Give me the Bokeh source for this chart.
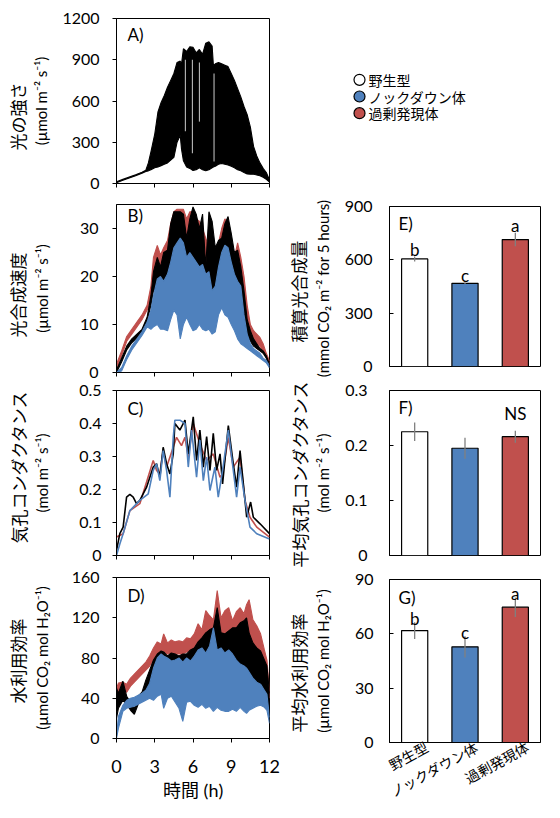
from bokeh.plotting import figure
from bokeh.layouts import row, column
from bokeh.models import Range1d, FactorRange, Title, Label, FixedTicker
from bokeh.core.properties import value
from bokeh.embed import file_html
from bokeh.resources import INLINE

# ---------------- data ----------------
groups = ["野生型", "ノックダウン体", "過剰発現体"]
x_ticks = [0, 3, 6, 9, 12]

# A) light intensity (envelope of a rapidly fluctuating trace)
A_t = [0, 0.5, 1.0, 1.5, 2.0, 2.3, 2.5, 2.7, 3.0, 3.25, 3.5, 3.75, 4.0, 4.25, 4.5, 4.75,
       5.0, 5.1, 5.25, 5.5, 5.75, 6.0, 6.25, 6.5, 6.75, 7.0, 7.25, 7.5, 7.6, 7.75, 8.0, 8.25,
       8.5, 8.75, 9.0, 9.25, 9.5, 9.75, 10.0, 10.25, 10.5, 10.75, 11.0, 11.25, 11.5, 11.75, 12.0]
A_hi = [12, 30, 47, 64, 82, 97, 150, 230, 360, 520, 590, 640, 700, 750, 800, 880,
        890, 870, 980, 960, 995, 990, 950, 975, 940, 1020, 1030, 1000, 860, 870, 880, 870,
        860, 850, 800, 750, 690, 630, 560, 500, 410, 270, 200, 150, 110, 80, 25]
A_lo = [5, 23, 40, 57, 75, 88, 92, 100, 115, 120, 130, 140, 150, 170, 190, 300,
        350, 250, 165, 120, 110, 95, 100, 115, 100, 92, 100, 115, 120, 125, 140, 145,
        140, 135, 125, 115, 100, 92, 80, 70, 68, 68, 62, 56, 45, 30, 10]
A_gap_t = [5.4, 5.95, 6.5, 7.65]
A_gap_top = [900, 900, 880, 800]
A_gap_bot = [380, 220, 450, 160]

# B) photosynthesis rate
B_t = [0, 0.4, 0.8, 1.2, 1.6, 2.0, 2.4, 2.7, 2.9, 3.2, 3.45, 3.7, 4.0, 4.25, 4.5, 4.75,
       5.0, 5.25, 5.5, 5.75, 6.0, 6.25, 6.5, 6.75, 7.0, 7.25, 7.5, 7.75, 8.0, 8.25, 8.5, 8.75,
       9.0, 9.25, 9.5, 9.75, 10.0, 10.25, 10.5, 10.75, 11.0, 11.25, 11.5, 11.75, 12.0]
B_red_hi = [1.7, 4.5, 7.5, 9.0, 10.5, 12.0, 14.0, 18.0, 24.0, 26.5, 24.5, 26.0, 27.5, 31.0, 33.5, 34.0,
            34.0, 34.0, 32.0, 33.5, 33.5, 32.0, 31.5, 30.0, 28.0, 26.0, 24.0, 25.0, 27.0, 30.0, 32.0, 31.0,
            26.0, 24.0, 27.0, 24.0, 20.0, 14.0, 10.0, 8.7, 8.0, 7.3, 6.0, 4.0, 2.4]
B_red_lo = [0.8, 3.5, 6.5, 8.0, 9.5, 11.0, 13.0, 15.0, 18, 20, 20, 20, 21, 22, 24, 25,
            25, 24, 22, 22, 21, 21, 20, 19, 18, 18, 16, 16, 19, 22, 24, 23,
            20, 18, 17, 15, 12, 9, 7.5, 6.5, 6.0, 5.5, 4.5, 3.0, 1.8]
B_black_hi = [0.5, 3.0, 5.5, 7.0, 8.0, 9.0, 11.5, 16.0, 21.0, 24.0, 22.0, 25.0, 25.5, 31.0, 33.5, 33.5,
              33.5, 33.0, 28.0, 32.0, 34.5, 33.0, 30.0, 33.0, 22.0, 33.5, 31.5, 26.0, 27.5, 28.0, 31.0, 32.5,
              29.0, 25.0, 25.5, 22.0, 17.0, 11.0, 8.7, 7.0, 6.0, 5.0, 4.5, 3.5, 1.7]
B_black_lo = [0, 2.2, 4.7, 6.2, 7.2, 8.2, 10.7, 14.0, 17, 18, 17, 18, 19, 20, 22, 24,
              24, 22, 20, 20, 19, 20, 18, 17, 16, 16, 14, 14, 18, 22, 24, 22,
              18, 17, 16, 14, 11, 8, 6.5, 5.5, 5.0, 4.5, 4.0, 3.0, 1.0]
B_blue_hi = [0, 1.0, 3.5, 5.5, 7.0, 8.5, 10.5, 13.0, 16.0, 19.5, 20.0, 19.0, 20.5, 23.0, 26.0, 27.0,
             28.0, 27.0, 24.0, 25.0, 24.0, 23.0, 22.0, 22.5, 20.5, 21.0, 17.0, 18.0, 22.0, 25.0, 26.5, 26.0,
             23.0, 20.5, 19.0, 18.0, 12.0, 8.0, 6.0, 5.0, 4.5, 4.0, 3.0, 2.5, 1.4]
B_blue_lo = [0, 0.3, 2.7, 4.7, 6.2, 7.7, 9.5, 9.0, 9.5, 10.0, 9.0, 9.0, 8.7, 11.0, 13.0, 12.0,
             7.0, 10.0, 11.5, 10.0, 8.7, 9.0, 10.0, 9.0, 8.7, 9.0, 8.0, 8.5, 12.0, 13.5, 12.0, 11.5,
             10.0, 8.7, 7.0, 6.0, 5.5, 5.0, 4.5, 4.0, 3.5, 3.0, 2.5, 2.0, 1.0]

# C) stomatal conductance
C_black_t = [0, 0.26, 0.52, 0.79, 1.05, 1.31, 1.57, 1.83, 2.36, 2.88, 3.14, 3.40, 3.66, 3.93,
             4.19, 4.45, 4.58, 4.97, 5.37, 5.63, 6.02, 6.28, 6.54, 6.81, 7.07, 7.33, 7.59, 7.85,
             8.12, 8.32, 8.77, 9.16, 9.42, 9.69, 9.95, 10.21, 10.52, 10.73, 11.26, 12.0]
C_black = [0.015, 0.066, 0.086, 0.177, 0.185, 0.177, 0.157, 0.167, 0.207, 0.268, 0.278, 0.237, 0.328, 0.278,
           0.247, 0.308, 0.40, 0.38, 0.41, 0.308, 0.42, 0.288, 0.38, 0.268, 0.36, 0.258, 0.37, 0.258,
           0.308, 0.217, 0.394, 0.278, 0.207, 0.318, 0.217, 0.116, 0.162, 0.116, 0.096, 0.066]
C_blue_t = [0, 0.26, 0.52, 1.05, 1.83, 2.49, 2.88, 3.14, 3.40, 3.66, 3.93, 4.19, 4.45, 4.58, 4.97,
            5.37, 5.63, 5.89, 6.28, 6.54, 6.81, 7.07, 7.33, 7.72, 7.98, 8.32, 8.77, 9.16, 9.42, 9.69,
            10.08, 10.47, 11.0, 12.0]
C_blue = [0, 0.035, 0.066, 0.136, 0.167, 0.187, 0.258, 0.278, 0.227, 0.318, 0.258, 0.177, 0.358, 0.41, 0.41,
          0.40, 0.268, 0.38, 0.237, 0.35, 0.227, 0.298, 0.197, 0.268, 0.177, 0.258, 0.38, 0.258, 0.177, 0.268,
          0.167, 0.086, 0.066, 0.05]
C_red_t = [0, 0.52, 1.05, 1.83, 2.88, 3.14, 3.40, 3.66, 3.93, 4.45, 4.71, 5.10, 5.37, 5.63,
           6.02, 6.54, 7.07, 7.59, 8.12, 8.32, 8.77, 9.16, 9.69, 10.08, 10.47, 11.0, 12.0]
C_red = [0.056, 0.066, 0.136, 0.157, 0.288, 0.258, 0.248, 0.318, 0.268, 0.328, 0.358, 0.333, 0.358, 0.298,
         0.40, 0.338, 0.288, 0.308, 0.237, 0.248, 0.358, 0.268, 0.298, 0.167, 0.116, 0.086, 0.056]

# D) water use efficiency
D_t = [0, 0.15, 0.5, 0.8, 1.1, 1.4, 1.7, 2.0, 2.3, 2.6, 2.9, 3.2, 3.5, 3.7, 4.0, 4.3, 4.6, 4.9,
       5.2, 5.5, 5.8, 6.1, 6.4, 6.7, 7.0, 7.3, 7.6, 7.9, 8.2, 8.5, 8.8, 9.1, 9.4, 9.7,
       10.0, 10.2, 10.4, 10.7, 11.0, 11.3, 11.6, 11.8, 12.0]
D_red_hi = [50, 55, 56, 54, 60, 64, 68, 72, 76, 82, 90, 96, 94, 104, 95, 98, 96, 97,
            96, 100, 99, 104, 114, 108, 127, 122, 118, 147, 120, 127, 130, 117, 126, 130,
            124, 133, 138, 118, 112, 104, 88, 78, 47]
D_red_lo = [44, 47, 48, 46, 52, 56, 60, 64, 68, 72, 78, 82, 84, 86, 84, 85, 84, 84,
            84, 86, 88, 90, 94, 96, 100, 104, 104, 108, 104, 104, 106, 104, 106, 108,
            108, 110, 104, 94, 88, 84, 74, 66, 40]
D_black_hi = [50, 45, 57, 42, 36, 30, 42, 46, 58, 68, 78, 84, 87, 86, 82, 85, 84, 82,
              84, 84, 88, 90, 96, 100, 105, 108, 110, 130, 105, 104, 107, 110, 110, 115,
              117, 120, 105, 95, 90, 87, 78, 72, 45]
D_black_lo = [20, 30, 38, 34, 28, 24, 34, 40, 46, 52, 60, 64, 62, 55, 50, 50, 50, 52,
              50, 50, 52, 55, 58, 60, 60, 62, 60, 58, 55, 55, 55, 52, 50, 50,
              50, 48, 45, 45, 42, 40, 38, 35, 30]
D_blue_hi = [2, 22, 33, 38, 40, 41, 43, 45, 48, 55, 70, 80, 84, 82, 80, 77, 78, 80,
             76, 80, 77, 82, 88, 90, 85, 92, 110, 88, 90, 85, 88, 84, 78, 74,
             72, 70, 66, 60, 56, 54, 48, 44, 21]
D_blue_lo = [0, 10, 27, 30, 31, 32, 34, 36, 38, 40, 38, 42, 44, 30, 40, 42, 36, 30,
             17, 36, 37, 33, 31, 34, 30, 32, 27, 31, 28, 27, 27, 29, 27, 31,
             27, 25, 28, 30, 32, 33, 31, 28, 15]

# E-G) bar summaries
E_means = [605, 468, 714]
E_errs = [14, 4, 38]
E_letters = ["b", "c", "a"]
F_means = [0.225, 0.195, 0.216]
F_errs = [0.017, 0.019, 0.011]
F_letters = ["", "", "NS"]
G_means = [61.8, 52.8, 74.7]
G_errs = [4.6, 5.9, 5.4]
G_letters = ["b", "c", "a"]

# ---------------- style ----------------
BLACK = "#000000"
BLUE = "#4F81BD"
RED = "#C0504D"
ERR = "#808080"
bar_colors = ["#FFFFFF", BLUE, RED]
LAT = "Lato, Noto Sans"
JP = "Noto Sans CJK JP"


def base(p):
    p.grid.visible = False
    p.outline_line_color = "black"
    p.outline_line_width = 1
    p.background_fill_color = "white"
    p.border_fill_color = "white"


def axis_common(a):
    a.axis_line_color = "black"
    a.axis_line_width = 1
    a.major_tick_line_color = "black"
    a.minor_tick_line_color = None
    a.major_label_text_font = "Lato"
    a.major_label_text_color = "black"
    a.axis_label_text_font = LAT
    a.axis_label_text_font_size = "15px"
    a.axis_label_text_font_style = "normal"
    a.axis_label_text_color = "black"


def left_fig(h, top, bottom, ymax, yticks, tag, tag_dy, name, jp_off, unit, lstd, als, xlabels=False):
    p = figure(width=280, height=h, x_range=Range1d(0, 12), y_range=Range1d(0, ymax),
               output_backend="svg", toolbar_location=None,
               min_border_left=116, min_border_right=11,
               min_border_top=top, min_border_bottom=bottom)
    base(p)
    ax, ay = p.xaxis[0], p.yaxis[0]
    for a in (ax, ay):
        axis_common(a)
        a.major_tick_out = 4
        a.major_tick_in = 0
    ax.ticker = FixedTicker(ticks=x_ticks)
    ay.ticker = FixedTicker(ticks=yticks)
    ay.major_label_text_font_size = "16px"
    ay.major_label_standoff = lstd
    ay.major_label_overrides = {0: "0"}
    ay.axis_label = unit
    ay.axis_label_standoff = als
    if xlabels:
        ax.major_label_text_font_size = "18px"
        ax.major_label_standoff = 17
        ax.axis_label = "時間 (h)"
        ax.axis_label_text_font = "Lato, Noto Sans CJK JP"
        ax.axis_label_text_font_size = "18px"
        ax.axis_label_standoff = 3
    else:
        ax.major_label_text_font_size = "1px"
        ax.major_label_text_color = None
        ax.major_label_standoff = 0
    p.add_layout(Title(text=name, text_font=JP, text_font_size="17px", text_font_style="normal",
                       text_color="black", align="left", offset=jp_off, standoff=0), "left")
    fh = h - top - bottom
    p.add_layout(Label(x=11, y=fh - tag_dy, x_units="screen", y_units="screen", text=tag,
                       text_font="Lato", text_font_size="17px", text_baseline="middle",
                       text_color="black"))
    return p


def band(p, t, lo, hi, color):
    p.varea(x=t, y1=lo, y2=hi, fill_color=color)
    p.line(t, hi, line_color=color, line_width=1.1)
    p.line(t, lo, line_color=color, line_width=1.1)


def bar_fig(h, top, bottom, ymax, yticks, means, errs, letters, let_off, tag, tag_dy,
            name, jp_off, unit, lstd, als, xlabels=False):
    n = len(groups)
    xs = [i + 0.5 for i in range(n)]          # centre of each group's slot
    p = figure(width=280, height=h, x_range=Range1d(0, n), y_range=Range1d(0, ymax),
               x_axis_location="below" if xlabels else None,
               output_backend="svg", toolbar_location=None,
               min_border_left=109, min_border_right=20,
               min_border_top=top, min_border_bottom=bottom)
    base(p)
    ay = p.yaxis[0]
    axis_common(ay)
    ay.major_tick_in = 4
    ay.major_tick_out = 0
    ay.ticker = FixedTicker(ticks=yticks)
    ay.major_label_text_font_size = "16px"
    ay.major_label_standoff = lstd
    ay.axis_label = unit
    ay.axis_label_standoff = als
    lo = [m - e for m, e in zip(means, errs)]
    hi = [m + e for m, e in zip(means, errs)]
    p.vbar(x=xs, top=means, width=0.52, fill_color=bar_colors,
           line_color="black", line_width=1.2)
    p.segment(x0=xs, y0=lo, x1=xs, y1=hi, line_color=ERR, line_width=1.3)
    lx = [x for x, s in zip(xs, letters) if s]
    ly = [v for v, s in zip(hi, letters) if s]
    ls = [s for s in letters if s]
    p.text(x=lx, y=ly, text=ls, text_font=value("Lato"), text_font_size=value("17px"),
           text_align="center", text_baseline="alphabetic", y_offset=let_off, text_color="black")
    p.add_layout(Title(text=name, text_font=JP, text_font_size="17px", text_font_style="normal",
                       text_color="black", align="left", offset=jp_off, standoff=0), "left")
    fh = h - top - bottom
    p.add_layout(Label(x=9, y=fh - tag_dy, x_units="screen", y_units="screen", text=tag,
                       text_font="Lato", text_font_size="17px", text_baseline="middle",
                       text_color="black"))
    if xlabels:
        # rotated group labels, anchored a little right of each bar centre
        lab_ticks = [x + 0.24 for x in xs]
        ax = p.xaxis[0]
        ax.ticker = FixedTicker(ticks=lab_ticks)
        ax.major_label_overrides = dict(zip(lab_ticks, groups))
        ax.axis_line_color = "black"
        ax.major_tick_line_color = None
        ax.minor_tick_line_color = None
        ax.major_tick_out = 0
        ax.major_tick_in = 0
        ax.major_label_orientation = 0.5
        ax.major_label_standoff = 3
        ax.major_label_text_font = JP
        ax.major_label_text_font_size = "14px"
        ax.major_label_text_color = "black"
    return p


# ---------------- left column ----------------
pA = left_fig(193, 18, 10, 1200, [0, 300, 600, 900, 1200], "A)", 16, "光の強さ", 33,
              "(µmol m⁻² s⁻¹)", 13, 9)
band(pA, A_t, A_lo, A_hi, BLACK)
pA.segment(x0=A_gap_t, y0=A_gap_bot, x1=A_gap_t, y1=A_gap_top, line_color="white", line_width=0.8)

pB = left_fig(187, 11, 8, 35, [0, 10, 20, 30], "B)", 11, "光合成速度", 35,
              "(µmol m⁻² s⁻¹)", 14, 26)
band(pB, B_t, B_red_lo, B_red_hi, RED)
band(pB, B_t, B_black_lo, B_black_hi, BLACK)
band(pB, B_t, B_blue_lo, B_blue_hi, BLUE)

pC = left_fig(185, 10, 10, 0.5, [0, 0.1, 0.2, 0.3, 0.4, 0.5], "C)", 18, "気孔コンダクタンス", 12,
              "(mol m⁻² s⁻¹)", 11, 25)
pC.line(C_red_t, C_red, line_color=RED, line_width=1.6)
pC.line(C_black_t, C_black, line_color=BLACK, line_width=1.6)
pC.line(C_blue_t, C_blue, line_color=BLUE, line_width=1.6)

pD = left_fig(253, 12, 80, 160, [0, 40, 80, 120, 160], "D)", 18, "水利用効率", 35,
              "(µmol CO₂ mol H₂O⁻¹)", 13, 18, xlabels=True)
band(pD, D_t, D_red_lo, D_red_hi, RED)
band(pD, D_t, D_black_lo, D_black_hi, BLACK)
band(pD, D_t, D_blue_lo, D_blue_hi, BLUE)

# ---------------- right column ----------------
pL = figure(width=280, height=190, x_range=Range1d(-19, 181), y_range=FactorRange(*groups[::-1]),
            x_axis_location=None, y_axis_location=None, output_backend="svg", toolbar_location=None,
            min_border_left=60, min_border_right=20, min_border_top=71, min_border_bottom=69)
pL.grid.visible = False
pL.outline_line_color = None
legend_x = [0] * len(groups)
pL.scatter(x=legend_x, y=groups, size=11, fill_color=bar_colors, line_color="black", line_width=1.2)
pL.text(x=legend_x, y=groups, text=groups, x_offset=9, text_baseline="middle", text_align="left",
        text_font=value(JP), text_font_size=value("14px"), text_color="black")

pE = bar_fig(190, 16, 14, 900, [0, 300, 600, 900], E_means, E_errs, E_letters, -7, "E)", 17,
             "積算光合成量", 24, "(mmol CO₂ m⁻² for  5 hours)", 17, 10)
pF = bar_fig(189, 10, 14, 0.3, [0.0, 0.1, 0.2, 0.3], F_means, F_errs, F_letters, -17, "F)", 17,
             "平均気孔コンダクタンス", -12, "(mol m⁻² s⁻¹)", 22, 10)
pG = bar_fig(249, 10, 76, 90, [0, 30, 60, 90], G_means, G_errs, G_letters, -4, "G)", 18,
             "平均水利用効率", 10, "(µmol CO₂ mol H₂O⁻¹)", 16, 20, xlabels=True)

layout = row(column(pA, pB, pC, pD, spacing=0),
             column(column(pL, spacing=0), column(pE, pF, pG, spacing=0), spacing=0),
             spacing=0)

open("out.html", "w").write(file_html(layout, INLINE))
